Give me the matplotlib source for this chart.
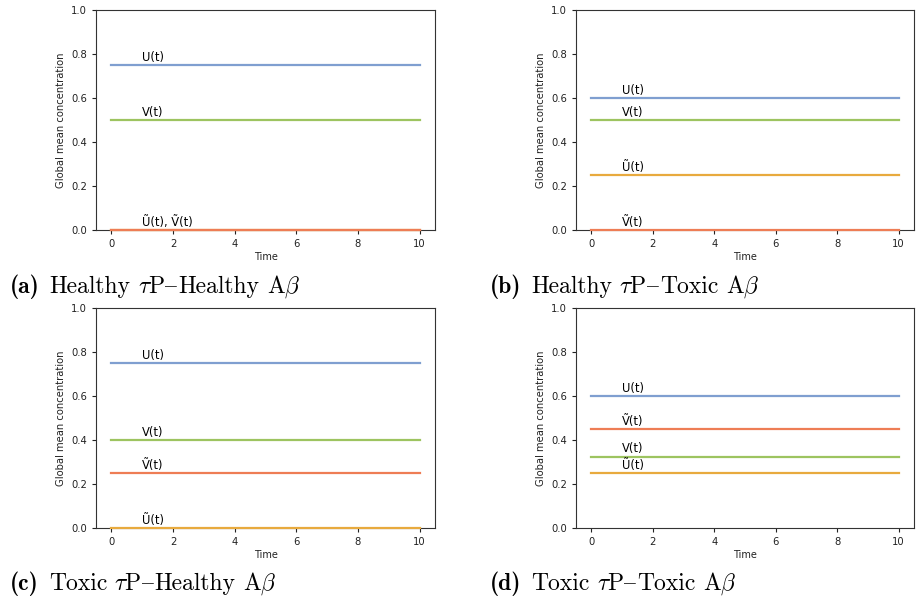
import matplotlib
matplotlib.use("Agg")
import matplotlib.pyplot as plt
import numpy as np

plt.rcParams['mathtext.fontset'] = 'cm'

time = [0, 10]
series_names = ["U(t)", "V(t)", "Ũ(t)", "Ṽ(t)"]
colors = ["#7f9fd0", "#9dc460", "#e8aa3e", "#ee7d55"]

# constant values per panel: U, V, U~, V~
panel_a = [0.75, 0.50, 0.0, 0.0]
panel_b = [0.60, 0.50, 0.25, 0.0]
panel_c = [0.75, 0.40, 0.0, 0.25]
panel_d = [0.60, 0.325, 0.25, 0.45]

labels_a = {"U(t)": 0.75, "V(t)": 0.50, "Ũ(t), Ṽ(t)": 0.0}
labels_b = {"U(t)": 0.60, "V(t)": 0.50, "Ũ(t)": 0.25, "Ṽ(t)": 0.0}
labels_c = {"U(t)": 0.75, "V(t)": 0.40, "Ṽ(t)": 0.25, "Ũ(t)": 0.0}
labels_d = {"U(t)": 0.60, "Ṽ(t)": 0.45, "V(t)": 0.325, "Ũ(t)": 0.25}

caption_tags = ["(a)", "(b)", "(c)", "(d)"]
caption_left = ["Healthy", "Healthy", "Toxic", "Toxic"]
caption_right = ["Healthy", "Toxic", "Healthy", "Toxic"]

fig = plt.figure(figsize=(9.19, 5.98), dpi=100)
W, H = 919, 598
renderer = fig.canvas.get_renderer()

def px_axes(l, t, r, b):
    return fig.add_axes([l / W, 1 - b / H, (r - l) / W, (b - t) / H])

boxes = [(96, 10, 435, 230), (576, 10, 914, 230), (96, 308, 435, 528), (576, 308, 914, 528)]
panels = [panel_a, panel_b, panel_c, panel_d]
labelsets = [labels_a, labels_b, labels_c, labels_d]
caption_pos = [(10, 293), (490, 293), (10, 590), (490, 590)]

def chain(x, y, parts):
    for s, fam, weight, gap in parts:
        t = fig.text(x / W, 1 - y / H, s, fontsize=17, fontweight=weight,
                     family=fam, va='baseline', ha='left')
        bb = t.get_window_extent(renderer=renderer)
        x = x + bb.width + gap

for box, vals, labs, tag, cl, cr, cp in zip(boxes, panels, labelsets, caption_tags,
                                             caption_left, caption_right, caption_pos):
    ax = px_axes(*box)
    for v, c in zip(vals, colors):
        ax.plot(time, [v, v], color=c, lw=1.6, clip_on=False, zorder=3)
    for name, y in labs.items():
        ax.text(1, y + 0.006, name, fontsize=8.3, ha='left', va='bottom')
    ax.set_xlim(-0.5, 10.5)
    ax.set_ylim(0, 1)
    ax.set_xticks([0, 2, 4, 6, 8, 10])
    ax.set_yticks([0, 0.2, 0.4, 0.6, 0.8, 1.0])
    ax.tick_params(labelsize=7.2, length=3, width=0.8, colors='#222222')
    ax.set_xlabel("Time", fontsize=7, labelpad=2, color='#222222')
    ax.set_ylabel("Global mean concentration", fontsize=7.2, labelpad=4, color='#222222')
    for s in ax.spines.values():
        s.set_linewidth(0.8)
        s.set_color('#333333')
    chain(cp[0], cp[1], [
        (tag, ['cmb10', 'DejaVu Serif'], 'bold', 10),
        (cl, ['cmr10', 'DejaVu Serif'], 'normal', 7),
        (r"$\tau\mathrm{P}$", ['cmr10', 'DejaVu Serif'], 'normal', 0.5),
        ("{", ['cmr10', 'DejaVu Serif'], 'normal', 1),
        (cr, ['cmr10', 'DejaVu Serif'], 'normal', 8),
        (r"A$\beta$", ['cmr10', 'DejaVu Serif'], 'normal', 0),
    ])

fig.savefig("out.png", dpi=100)
